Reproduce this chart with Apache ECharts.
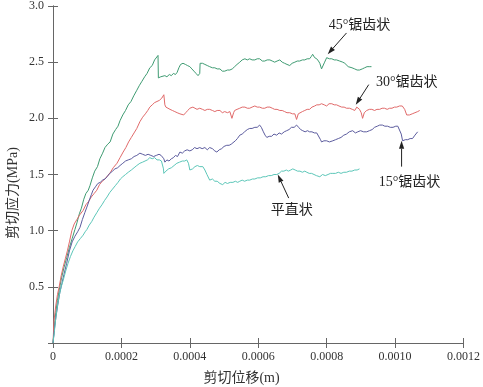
<!DOCTYPE html>
<html><head><meta charset="utf-8">
<script src="https://cdn.jsdelivr.net/npm/echarts@6/dist/echarts.min.js"></script>
<style>html,body{margin:0;padding:0;background:#fff}#c{width:483px;height:387px}</style>
</head><body><div id="c"></div>
<script>
// x in metres, y in MPa
var xTicks = [0, 0.0002, 0.0004, 0.0006, 0.0008, 0.0010, 0.0012];
var yTicks = [0.5, 1.0, 1.5, 2.0, 2.5, 3.0];
var seriesNames = ['45°锯齿状', '30°锯齿状', '15°锯齿状', '平直状'];

var saw45 = [[0,0],[0.000004,0.14],[0.000008,0.27],[0.000013,0.38],[0.000018,0.47],[0.000025,0.58],[0.000032,0.67],[0.00004,0.76],[0.000048,0.85],[0.000056,0.93],[0.000064,1.01],[0.00007,1.07],[0.000077,1.15],[0.000083,1.2],[0.00009,1.28],[0.000096,1.33],[0.000103,1.36],[0.000108,1.4],[0.000115,1.47],[0.000122,1.53],[0.00013,1.57],[0.000137,1.64],[0.000145,1.69],[0.000152,1.74],[0.00016,1.77],[0.000167,1.79],[0.000175,1.86],[0.000183,1.9],[0.00019,1.93],[0.000196,1.98],[0.000204,2.03],[0.000212,2.07],[0.00022,2.12],[0.000228,2.15],[0.000236,2.2],[0.000245,2.25],[0.000252,2.29],[0.00026,2.33],[0.000268,2.37],[0.000275,2.4],[0.000283,2.45],[0.00029,2.47],[0.000297,2.52],[0.000302,2.53],[0.000307,2.56],[0.000308,2.36],[0.000315,2.37],[0.00032,2.36],[0.000327,2.38],[0.000333,2.37],[0.00034,2.39],[0.000346,2.38],[0.000352,2.4],[0.000358,2.39],[0.000363,2.41],[0.000368,2.45],[0.000373,2.48],[0.00038,2.49],[0.000387,2.48],[0.000393,2.47],[0.0004,2.46],[0.000406,2.44],[0.000412,2.42],[0.000418,2.4],[0.000424,2.38],[0.000429,2.4],[0.00043,2.49],[0.000437,2.49],[0.000444,2.48],[0.000451,2.47],[0.000458,2.46],[0.000466,2.45],[0.000473,2.45],[0.00048,2.44],[0.000488,2.44],[0.000495,2.42],[0.000502,2.42],[0.00051,2.43],[0.000517,2.43],[0.000524,2.44],[0.000531,2.46],[0.000538,2.48],[0.000546,2.5],[0.000553,2.52],[0.000561,2.53],[0.000568,2.52],[0.000575,2.53],[0.000582,2.52],[0.00059,2.52],[0.000597,2.53],[0.000604,2.53],[0.000612,2.51],[0.000619,2.51],[0.000626,2.52],[0.000634,2.52],[0.000641,2.51],[0.000648,2.5],[0.000655,2.51],[0.000663,2.52],[0.00067,2.5],[0.000677,2.49],[0.000684,2.48],[0.000692,2.47],[0.000699,2.49],[0.000707,2.5],[0.000714,2.51],[0.000721,2.51],[0.000729,2.52],[0.000736,2.52],[0.000743,2.53],[0.00075,2.53],[0.000755,2.55],[0.000759,2.57],[0.000765,2.54],[0.000771,2.53],[0.000776,2.51],[0.00078,2.49],[0.000785,2.44],[0.000788,2.43],[0.000794,2.5],[0.0008,2.54],[0.000808,2.53],[0.000815,2.53],[0.000822,2.52],[0.000829,2.52],[0.000838,2.51],[0.000847,2.5],[0.000853,2.49],[0.000858,2.48],[0.000863,2.46],[0.000867,2.45],[0.000874,2.45],[0.000882,2.44],[0.000889,2.43],[0.000896,2.43],[0.000904,2.44],[0.000911,2.45],[0.000918,2.46],[0.000926,2.46],[0.000931,2.46]];

var saw30 = [[0,0],[0.000003,0.2],[0.000008,0.33],[0.000013,0.43],[0.000018,0.5],[0.000024,0.6],[0.00003,0.68],[0.000036,0.75],[0.000042,0.82],[0.000048,0.9],[0.000055,1.0],[0.000062,1.06],[0.00007,1.1],[0.000078,1.14],[0.000088,1.18],[0.000096,1.23],[0.000104,1.26],[0.000112,1.3],[0.00012,1.33],[0.000128,1.36],[0.000136,1.41],[0.000144,1.44],[0.000152,1.46],[0.00016,1.49],[0.000168,1.52],[0.000176,1.56],[0.000187,1.6],[0.000196,1.65],[0.000205,1.7],[0.000213,1.74],[0.000221,1.79],[0.000229,1.83],[0.000237,1.87],[0.000245,1.91],[0.000254,1.97],[0.000262,2.01],[0.00027,2.04],[0.000277,2.07],[0.000283,2.1],[0.00029,2.12],[0.000297,2.14],[0.000304,2.15],[0.000311,2.16],[0.000318,2.18],[0.000324,2.21],[0.000327,2.12],[0.00033,2.1],[0.000336,2.09],[0.000342,2.08],[0.000349,2.07],[0.000356,2.06],[0.000363,2.05],[0.000371,2.04],[0.000376,2.03],[0.000382,2.03],[0.000388,2.05],[0.000394,2.07],[0.0004,2.09],[0.000409,2.1],[0.000415,2.09],[0.000421,2.08],[0.000429,2.09],[0.000437,2.08],[0.000444,2.07],[0.000451,2.08],[0.000458,2.08],[0.000466,2.07],[0.000473,2.06],[0.00048,2.07],[0.000488,2.07],[0.000495,2.05],[0.000502,2.06],[0.00051,2.05],[0.000517,2.06],[0.000523,2.0],[0.000528,2.05],[0.000531,2.07],[0.000538,2.08],[0.000546,2.09],[0.000553,2.1],[0.000561,2.1],[0.000568,2.09],[0.000575,2.09],[0.000582,2.1],[0.00059,2.11],[0.000597,2.1],[0.000604,2.1],[0.000612,2.09],[0.000619,2.09],[0.000626,2.1],[0.000634,2.1],[0.000641,2.09],[0.000648,2.08],[0.000655,2.08],[0.000663,2.07],[0.00067,2.07],[0.000677,2.06],[0.000684,2.05],[0.000692,2.05],[0.0007,2.04],[0.000707,2.04],[0.000712,1.99],[0.000717,2.04],[0.000721,2.05],[0.000729,2.06],[0.000736,2.07],[0.000743,2.08],[0.00075,2.08],[0.000757,2.1],[0.000765,2.11],[0.000771,2.12],[0.000778,2.12],[0.000785,2.13],[0.000793,2.12],[0.0008,2.11],[0.000807,2.13],[0.000815,2.13],[0.000822,2.12],[0.000829,2.12],[0.000836,2.11],[0.000844,2.1],[0.000851,2.1],[0.000858,2.09],[0.000867,2.09],[0.000875,2.08],[0.000882,2.07],[0.000888,2.1],[0.000896,2.08],[0.000901,2.05],[0.000905,2.0],[0.00091,2.05],[0.000917,2.07],[0.000925,2.08],[0.000932,2.08],[0.00094,2.07],[0.000947,2.08],[0.000955,2.08],[0.000962,2.09],[0.000969,2.09],[0.000977,2.08],[0.000984,2.09],[0.000991,2.09],[0.000998,2.1],[0.001005,2.1],[0.001013,2.11],[0.001021,2.11],[0.001028,2.08],[0.001034,2.03],[0.001042,2.03],[0.00105,2.04],[0.001058,2.05],[0.001066,2.06],[0.001072,2.07]];

var saw15 = [[0,0],[0.000004,0.12],[0.000009,0.24],[0.000014,0.34],[0.00002,0.45],[0.000026,0.53],[0.000032,0.61],[0.00004,0.71],[0.000048,0.82],[0.000056,0.9],[0.000064,0.95],[0.000072,0.99],[0.000079,1.03],[0.000086,1.1],[0.000093,1.16],[0.000099,1.21],[0.000106,1.27],[0.000112,1.32],[0.000117,1.36],[0.000124,1.39],[0.000131,1.42],[0.000138,1.43],[0.000145,1.45],[0.000152,1.46],[0.000158,1.48],[0.000166,1.51],[0.000174,1.53],[0.000181,1.55],[0.000189,1.56],[0.000196,1.58],[0.000204,1.6],[0.000212,1.62],[0.00022,1.63],[0.000229,1.64],[0.000237,1.66],[0.000245,1.67],[0.000254,1.69],[0.000262,1.68],[0.00027,1.67],[0.000278,1.68],[0.000286,1.67],[0.000294,1.66],[0.000302,1.67],[0.00031,1.68],[0.000316,1.67],[0.000321,1.67],[0.000324,1.64],[0.000327,1.61],[0.000333,1.63],[0.000339,1.62],[0.000346,1.64],[0.000352,1.65],[0.000358,1.67],[0.000364,1.66],[0.000371,1.7],[0.000378,1.69],[0.000385,1.71],[0.000392,1.72],[0.0004,1.71],[0.000407,1.72],[0.000414,1.74],[0.000421,1.73],[0.000429,1.74],[0.000436,1.73],[0.000444,1.74],[0.000451,1.72],[0.000458,1.74],[0.000466,1.73],[0.000473,1.71],[0.000479,1.7],[0.000486,1.72],[0.000493,1.73],[0.0005,1.75],[0.000508,1.76],[0.000515,1.76],[0.000521,1.77],[0.000526,1.78],[0.000533,1.8],[0.000539,1.82],[0.000546,1.85],[0.000553,1.86],[0.00056,1.88],[0.000568,1.9],[0.000575,1.91],[0.000582,1.91],[0.00059,1.92],[0.000597,1.92],[0.000604,1.94],[0.000609,1.92],[0.000615,1.88],[0.00062,1.85],[0.000625,1.83],[0.000632,1.84],[0.000639,1.84],[0.000646,1.86],[0.000654,1.85],[0.000661,1.87],[0.000668,1.86],[0.000676,1.88],[0.000683,1.89],[0.00069,1.9],[0.000697,1.92],[0.000705,1.92],[0.000712,1.94],[0.000718,1.92],[0.000724,1.9],[0.00073,1.89],[0.000737,1.88],[0.000744,1.89],[0.00075,1.88],[0.000757,1.88],[0.000764,1.87],[0.000771,1.87],[0.000776,1.86],[0.000782,1.81],[0.000785,1.79],[0.000792,1.8],[0.0008,1.8],[0.000808,1.79],[0.000818,1.8],[0.000826,1.81],[0.000834,1.82],[0.000842,1.83],[0.00085,1.85],[0.000858,1.86],[0.000866,1.88],[0.000876,1.89],[0.000884,1.87],[0.000891,1.88],[0.000899,1.89],[0.000908,1.88],[0.000917,1.88],[0.000925,1.89],[0.000933,1.9],[0.00094,1.92],[0.000948,1.93],[0.000955,1.94],[0.000963,1.94],[0.00097,1.93],[0.000978,1.93],[0.000986,1.92],[0.000994,1.92],[0.001002,1.93],[0.001008,1.93],[0.001013,1.92],[0.001018,1.86],[0.001022,1.8],[0.00103,1.81],[0.001037,1.81],[0.001044,1.82],[0.001051,1.82],[0.001058,1.85],[0.001066,1.88]];

var flat = [[0,0],[0.000004,0.1],[0.000008,0.22],[0.000013,0.33],[0.000018,0.42],[0.000024,0.5],[0.00003,0.56],[0.000037,0.64],[0.000044,0.71],[0.000051,0.77],[0.000058,0.82],[0.000065,0.86],[0.000072,0.9],[0.00008,0.93],[0.000088,0.96],[0.000094,0.99],[0.000099,1.01],[0.000106,1.05],[0.000113,1.08],[0.00012,1.12],[0.000128,1.16],[0.000136,1.2],[0.000143,1.23],[0.000151,1.27],[0.000158,1.3],[0.000166,1.34],[0.000174,1.37],[0.000182,1.4],[0.00019,1.43],[0.000197,1.46],[0.000204,1.48],[0.000212,1.5],[0.00022,1.52],[0.000229,1.54],[0.000237,1.56],[0.000245,1.58],[0.000254,1.6],[0.000262,1.61],[0.000269,1.62],[0.000276,1.63],[0.000283,1.65],[0.00029,1.64],[0.000297,1.65],[0.000304,1.63],[0.000311,1.63],[0.000317,1.62],[0.000321,1.61],[0.000323,1.55],[0.000324,1.51],[0.00033,1.53],[0.000338,1.55],[0.000346,1.56],[0.000354,1.58],[0.000362,1.6],[0.00037,1.61],[0.000378,1.62],[0.000385,1.62],[0.000391,1.63],[0.000396,1.6],[0.0004,1.54],[0.000408,1.55],[0.000415,1.57],[0.000422,1.58],[0.000429,1.57],[0.000438,1.57],[0.000444,1.54],[0.00045,1.5],[0.000458,1.45],[0.000466,1.46],[0.000473,1.44],[0.00048,1.44],[0.000488,1.42],[0.000496,1.41],[0.000503,1.43],[0.00051,1.42],[0.000518,1.43],[0.000526,1.43],[0.000533,1.44],[0.00054,1.43],[0.000546,1.44],[0.000553,1.45],[0.00056,1.44],[0.000568,1.45],[0.000575,1.45],[0.000583,1.46],[0.00059,1.46],[0.000598,1.47],[0.000606,1.47],[0.000614,1.48],[0.000622,1.48],[0.00063,1.49],[0.000638,1.49],[0.000646,1.5],[0.000654,1.5],[0.000661,1.51],[0.000668,1.53],[0.000675,1.53],[0.000682,1.54],[0.000688,1.53],[0.000695,1.54],[0.000701,1.55],[0.000708,1.54],[0.000715,1.53],[0.000722,1.53],[0.000729,1.52],[0.000736,1.53],[0.000742,1.52],[0.000749,1.51],[0.000756,1.51],[0.000763,1.5],[0.00077,1.49],[0.00078,1.48],[0.000788,1.5],[0.000796,1.49],[0.000804,1.5],[0.000811,1.51],[0.000818,1.51],[0.000826,1.51],[0.000834,1.52],[0.000842,1.51],[0.00085,1.52],[0.000858,1.52],[0.000866,1.53],[0.000874,1.53],[0.000882,1.54],[0.000889,1.54],[0.000896,1.55]];

// annotation anchor points (text centre, arrow start, arrow tip) in data units
var notes = [
  {text: seriesNames[0], at: [0.000896, 2.83], from: [0.000858, 2.76], to: [0.000803, 2.57]},
  {text: seriesNames[1], at: [0.001034, 2.32], from: [0.000923, 2.30], to: [0.000885, 2.12]},
  {text: seriesNames[2], at: [0.001042, 1.43], from: [0.001019, 1.57], to: [0.001019, 1.80]},
  {text: seriesNames[3], at: [0.000698, 1.18], from: [0.000689, 1.29], to: [0.000657, 1.50]}
];

var colors = ['#3f9b72', '#e06a6a', '#5c5c9e', '#5cc6b8'];
var FONT = 'Liberation Serif, Noto Sans CJK SC, serif';

var chart = echarts.init(document.getElementById('c'), null, {renderer: 'canvas'});
var axisLineStyle = {color: '#666', width: 1};
var datasets = [saw45, saw30, saw15, flat];
var series = datasets.map(function (d, i) {
  return {
    name: seriesNames[i], type: 'line', data: d, showSymbol: false, symbol: 'none',
    lineStyle: {color: colors[i], width: 1}, itemStyle: {color: colors[i]},
    z: 2
  };
});
// annotation text
series.push({
  type: 'line', data: [], silent: true,
  markPoint: {
    silent: true, symbol: 'circle', symbolSize: 0, animation: false,
    label: {show: true, position: 'inside', color: '#222', fontFamily: FONT, fontSize: 14,
      formatter: function (p) { return p.name; }},
    data: notes.map(function (n) { return {name: n.text, coord: n.at}; })
  }
});

chart.setOption({
  animation: false,
  backgroundColor: '#fff',
  grid: {left: 53, right: 19, top: 5, bottom: 44, containLabel: false},
  xAxis: [{
    type: 'value', min: 0, max: 0.0012, interval: 0.0002,
    axisLine: {show: true, lineStyle: axisLineStyle},
    axisTick: {show: true, inside: true, length: 5, lineStyle: axisLineStyle},
    splitLine: {show: false},
    axisLabel: {color: '#333', fontFamily: FONT, fontSize: 12, margin: 8,
      formatter: function (v) { return v === 0 ? '0' : v.toFixed(4); }}
  }, {
    type: 'value', position: 'top', min: 0, max: 0.0012, interval: 0.0002,
    axisLine: {show: true, lineStyle: axisLineStyle},
    axisTick: {show: true, inside: true, length: 5, lineStyle: axisLineStyle},
    axisLabel: {show: false}, splitLine: {show: false}
  }],
  yAxis: [{
    type: 'value', min: 0, max: 3, interval: 0.5,
    axisLine: {show: true, lineStyle: axisLineStyle},
    axisTick: {show: true, inside: true, length: 5, lineStyle: axisLineStyle},
    splitLine: {show: false},
    axisLabel: {color: '#333', fontFamily: FONT, fontSize: 12, margin: 9, showMinLabel: false,
      formatter: function (v) { return v.toFixed(1); }}
  }, {
    type: 'value', position: 'right', min: 0, max: 3, interval: 0.5,
    axisLine: {show: true, lineStyle: axisLineStyle},
    axisTick: {show: true, inside: true, length: 5, lineStyle: axisLineStyle},
    axisLabel: {show: false}, splitLine: {show: false}
  }],
  series: series
});

// arrows placed through the chart's own coordinate conversion
var graphics = [
  {type: 'text', left: 'center', top: 371, style: {text: '剪切位移(m)', fill: '#333', font: '14px ' + FONT}},
  {type: 'text', x: 13, y: 193, rotation: Math.PI / 2,
    style: {text: '剪切应力(MPa)', fill: '#333', font: '14px ' + FONT, align: 'center', verticalAlign: 'middle'}}
];
notes.forEach(function (n) {
  var a = chart.convertToPixel({gridIndex: 0}, n.from);
  var b = chart.convertToPixel({gridIndex: 0}, n.to);
  var dx = b[0] - a[0], dy = b[1] - a[1];
  var len = Math.sqrt(dx * dx + dy * dy);
  var ux = dx / len, uy = dy / len;
  var headL = 8, headW = 2.6;
  var bx = b[0] - ux * headL, by = b[1] - uy * headL;
  graphics.push({type: 'line', silent: true, z: 10,
    shape: {x1: a[0], y1: a[1], x2: bx, y2: by}, style: {stroke: '#222', lineWidth: 1}});
  graphics.push({type: 'polygon', silent: true, z: 10,
    shape: {points: [[b[0], b[1]], [bx - uy * headW, by + ux * headW], [bx + uy * headW, by - ux * headW]]},
    style: {fill: '#222'}});
});
chart.setOption({graphic: graphics});
</script></body></html>
